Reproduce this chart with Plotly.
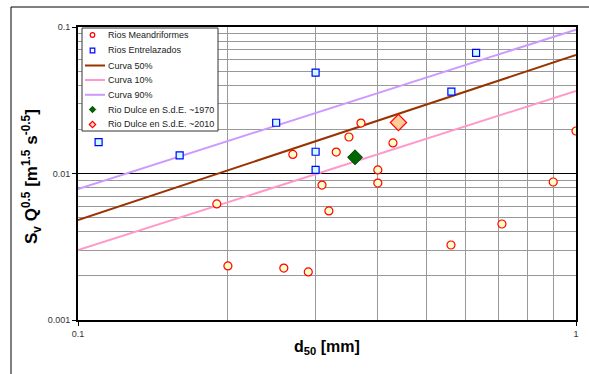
import plotly.graph_objects as go

# Rios meandriformes
mea_x = [0.19, 0.20, 0.259, 0.27, 0.29, 0.309, 0.319, 0.33, 0.35, 0.37, 0.40, 0.40, 0.429, 0.561, 0.71, 0.90, 1.0]
mea_y = [0.0062, 0.00234, 0.00226, 0.0135, 0.00213, 0.00834, 0.00555, 0.0140, 0.01775, 0.0221, 0.01057, 0.0086, 0.01616, 0.00325, 0.00452, 0.00875, 0.0195]
# Rios entrelazados
ent_x = [0.110, 0.16, 0.25, 0.30, 0.30, 0.30, 0.562, 0.63]
ent_y = [0.0164, 0.0133, 0.0222, 0.0488, 0.01408, 0.01057, 0.0362, 0.0665]
# Curves
curve_x = [0.1, 1.0]
c50_y = [0.00482, 0.0644]
c10_y = [0.0030, 0.0366]
c90_y = [0.00783, 0.096]
# Rio Dulce
d1970_x = [0.36]
d1970_y = [0.0129]
d2010_x = [0.44]
d2010_y = [0.0223]

legend_labels = ["Rios Meandriformes", "Rios Entrelazados", "Curva 50%", "Curva 10%",
                 "Curva 90%", "Rio Dulce en S.d.E. ~1970", "Rio Dulce en S.d.E. ~2010"]

FONT = "Liberation Sans, Arial, Helvetica, sans-serif"

fig = go.Figure()
fig.add_trace(go.Scatter(x=curve_x, y=c50_y, mode="lines", name=legend_labels[2],
                         line=dict(color="#993300", width=2)))
fig.add_trace(go.Scatter(x=curve_x, y=c10_y, mode="lines", name=legend_labels[3],
                         line=dict(color="#ff99cc", width=2)))
fig.add_trace(go.Scatter(x=curve_x, y=c90_y, mode="lines", name=legend_labels[4],
                         line=dict(color="#cc99ff", width=2)))
fig.add_trace(go.Scatter(x=mea_x, y=mea_y, mode="markers", name=legend_labels[0],
                         marker=dict(symbol="circle", size=8, color="#ffffc8",
                                     line=dict(color="#ff0000", width=1.2))))
fig.add_trace(go.Scatter(x=ent_x, y=ent_y, mode="markers", name=legend_labels[1],
                         marker=dict(symbol="square", size=7, color="#ccffff",
                                     line=dict(color="#0000ff", width=1.2))))
fig.add_trace(go.Scatter(x=d1970_x, y=d1970_y, mode="markers", name=legend_labels[5],
                         marker=dict(symbol="diamond", size=11.5, color="#006600",
                                     line=dict(color="#004400", width=1))))
fig.add_trace(go.Scatter(x=d2010_x, y=d2010_y, mode="markers", name=legend_labels[6],
                         marker=dict(symbol="diamond", size=12.5, color="#ffcc99",
                                     line=dict(color="#ff0000", width=1.2))))

grid_minor_x = [0.2, 0.3, 0.4, 0.5, 0.6, 0.7, 0.8, 0.9]
grid_minor_y = [0.002, 0.003, 0.004, 0.005, 0.006, 0.007, 0.008, 0.009,
                0.02, 0.03, 0.04, 0.05, 0.06, 0.07, 0.08, 0.09]

fig.update_xaxes(type="log", range=[-1, 0], tickvals=[0.1, 1], ticktext=["0.1", "1"],
                 automargin=False,
                 showline=True, linecolor="black", linewidth=2, mirror=True,
                 ticks="outside", ticklen=4, tickcolor="black",
                 showgrid=True, gridcolor="black", gridwidth=1,
                 minor=dict(tickvals=grid_minor_x, showgrid=True, gridcolor="#999999", gridwidth=1, ticks=""),
                 tickfont=dict(family=FONT, size=9, color="#333"),
                 zeroline=False)
fig.update_yaxes(type="log", range=[-3, -1], tickvals=[0.001, 0.01, 0.1], ticktext=["0.001", "0.01", "0.1"],
                 automargin=False,
                 showline=True, linecolor="black", linewidth=2, mirror=True,
                 ticks="outside", ticklen=4, tickcolor="black",
                 showgrid=True, gridcolor="black", gridwidth=1.2,
                 minor=dict(tickvals=grid_minor_y, showgrid=True, gridcolor="#999999", gridwidth=1, ticks=""),
                 tickfont=dict(family=FONT, size=9, color="#333"),
                 zeroline=False)

# pixel -> paper helpers (layout only)
L, T, W, H = 78, 27, 498, 293
def px(x):
    return (x - L) / W
def py(y):
    return 1 - (y - T) / H

shapes = [dict(type="rect", xref="paper", yref="paper",
               x0=px(11), x1=px(640), y0=py(400), y1=py(7),
               line=dict(color="black", width=1), layer="below")]
annotations = []

# axis titles
annotations.append(dict(xref="paper", yref="paper", x=px(327), y=py(347), showarrow=False,
                        text="<b>d<sub>50</sub> [mm]</b>", xanchor="center", yanchor="middle",
                        font=dict(family=FONT, size=16, color="black")))
annotations.append(dict(xref="paper", yref="paper", x=px(31), y=py(177), showarrow=False,
                        text="<b>S<sub>v</sub> Q<sup>0.5</sup> [m<sup>1.5</sup> s<sup>-0.5</sup>]</b>",
                        textangle=-90, xanchor="center", yanchor="middle",
                        font=dict(family=FONT, size=17, color="black")))

# custom legend
shapes.append(dict(type="rect", xref="paper", yref="paper",
                   x0=px(82), x1=px(218), y0=py(131), y1=py(28),
                   line=dict(color="#333", width=1), fillcolor="white", layer="above"))
item_y = [35, 50.5, 65.5, 80, 94.8, 109.5, 124.5]
mx = 92.5
for i, lab in enumerate(legend_labels):
    annotations.append(dict(xref="paper", yref="paper", x=px(106), y=py(item_y[i]), showarrow=False,
                            text=lab, xanchor="left", yanchor="middle",
                            font=dict(family=FONT, size=9, color="#222")))
yy = item_y
# circle
shapes.append(dict(type="circle", xref="paper", yref="paper",
                   x0=px(mx - 2.3), x1=px(mx + 2.3), y0=py(yy[0] + 2.3), y1=py(yy[0] - 2.3),
                   line=dict(color="#ff0000", width=1.2), fillcolor="white", layer="above"))
# square
shapes.append(dict(type="rect", xref="paper", yref="paper",
                   x0=px(mx - 2.3), x1=px(mx + 2.3), y0=py(yy[1] + 2.3), y1=py(yy[1] - 2.3),
                   line=dict(color="#0000ff", width=1.2), fillcolor="white", layer="above"))
# lines
for j, col in zip([2, 3, 4], ["#993300", "#ff99cc", "#cc99ff"]):
    shapes.append(dict(type="line", xref="paper", yref="paper",
                       x0=px(85), x1=px(105), y0=py(yy[j]), y1=py(yy[j]),
                       line=dict(color=col, width=2), layer="above"))
# diamonds
def diamond(cx, cy, r):
    return (f"M {px(cx - r)},{py(cy)} L {px(cx)},{py(cy - r)} "
            f"L {px(cx + r)},{py(cy)} L {px(cx)},{py(cy + r)} Z")
shapes.append(dict(type="path", xref="paper", yref="paper", path=diamond(mx, yy[5], 3.2),
                   line=dict(color="#004400", width=1), fillcolor="#006600", layer="above"))
shapes.append(dict(type="path", xref="paper", yref="paper", path=diamond(mx, yy[6], 3.2),
                   line=dict(color="#ff0000", width=1.2), fillcolor="#ffe0d0", layer="above"))

fig.update_layout(
    width=589, height=374,
    margin=dict(l=L, r=589 - L - W, t=T, b=374 - T - H, autoexpand=False),
    paper_bgcolor="white", plot_bgcolor="white",
    showlegend=False,
    shapes=shapes,
    annotations=annotations,
)

fig.write_html("out.html",
               config={"displayModeBar": False},
               post_script="document.body.style.margin='0';document.body.style.padding='0';"
                           "document.documentElement.style.overflow='hidden';")
